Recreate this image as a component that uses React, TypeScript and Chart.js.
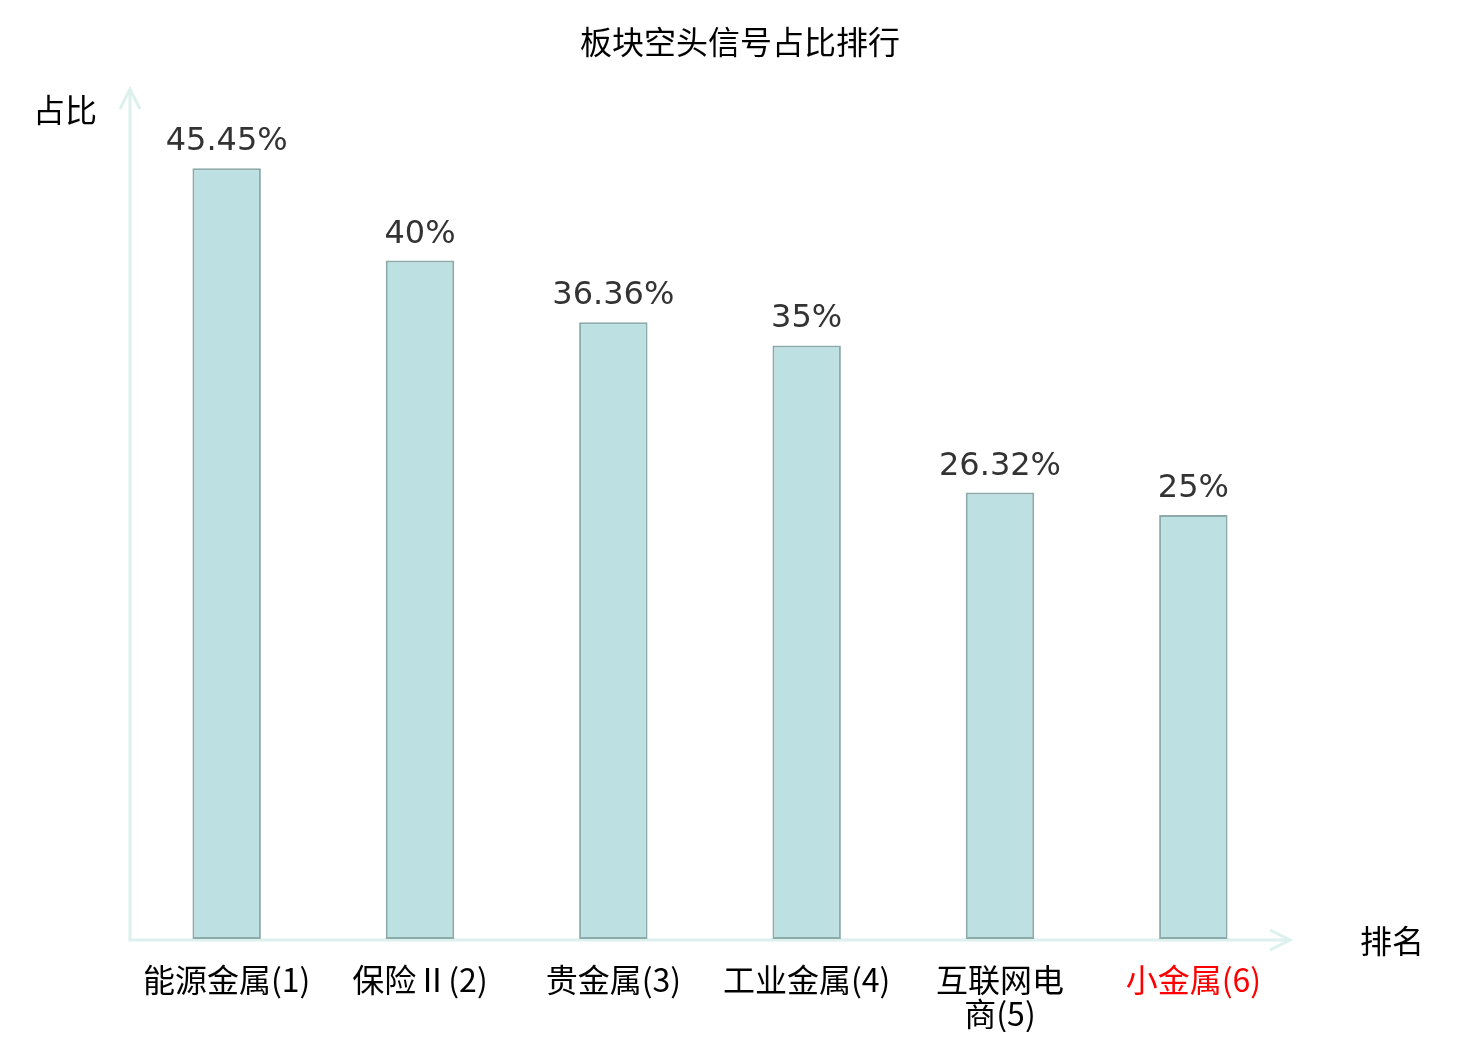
import React, { useEffect, useRef } from "react";
import { Chart, registerables } from "chart.js";

Chart.register(...registerables);

const TITLE = "板块空头信号占比排行";
const Y_NAME = "占比";
const X_NAME = "排名";
const categories: (string | string[])[] = [
  "能源金属(1)",
  "保险Ⅱ(2)",
  "贵金属(3)",
  "工业金属(4)",
  ["互联网电", "商(5)"],
  "小金属(6)",
];
const values = [45.45, 40, 36.36, 35, 26.32, 25];
const valueLabels = ["45.45%", "40%", "36.36%", "35%", "26.32%", "25%"];
const labelColors = ["#000000", "#000000", "#000000", "#000000", "#000000", "#ff0000"];

const CJK = '"Noto Sans CJK SC", sans-serif';
const LATIN = '"DejaVu Sans", "Noto Sans CJK SC", sans-serif';
const AXIS_COLOR = "#dcf1ee";

const decorPlugin = {
  id: "decor",
  beforeDatasetsDraw(chart: any) {
    const { ctx, chartArea } = chart;
    const { left, right, top, bottom } = chartArea;
    ctx.save();
    ctx.strokeStyle = AXIS_COLOR;
    ctx.lineWidth = 3;
    ctx.lineCap = "butt";
    // y axis
    ctx.beginPath();
    ctx.moveTo(left, bottom + 1.5);
    ctx.lineTo(left, top - 2);
    ctx.stroke();
    ctx.beginPath();
    ctx.moveTo(left - 10, top + 18);
    ctx.lineTo(left, top - 2);
    ctx.lineTo(left + 10, top + 18);
    ctx.stroke();
    // x axis
    ctx.beginPath();
    ctx.moveTo(left - 1.5, bottom + 1);
    ctx.lineTo(right, bottom + 1);
    ctx.stroke();
    ctx.beginPath();
    ctx.moveTo(right - 20, bottom - 9);
    ctx.lineTo(right, bottom + 1);
    ctx.lineTo(right - 20, bottom + 11);
    ctx.stroke();
    ctx.restore();
  },
  afterDatasetsDraw(chart: any) {
    const { ctx } = chart;
    ctx.save();
    // title
    ctx.fillStyle = "#000000";
    ctx.font = `32px ${CJK}`;
    ctx.textAlign = "center";
    ctx.textBaseline = "middle";
    ctx.fillText(TITLE, 740, 42);
    // axis names
    ctx.textAlign = "left";
    ctx.fillText(Y_NAME, 33, 110);
    ctx.fillText(X_NAME, 1360, 941);
    // value labels
    const meta = chart.getDatasetMeta(0);
    ctx.fillStyle = "#333333";
    ctx.font = `32px ${LATIN}`;
    ctx.textAlign = "center";
    ctx.textBaseline = "alphabetic";
    meta.data.forEach((bar: any, i: number) => {
      ctx.fillText(valueLabels[i], bar.x, bar.y - 18);
    });
    ctx.restore();
  },
};

export default function App() {
  const ref = useRef<HTMLCanvasElement | null>(null);
  useEffect(() => {
    document.body.style.margin = "0";
    const chart = new Chart(ref.current as HTMLCanvasElement, {
      type: "bar",
      data: {
        labels: categories,
        datasets: [
          {
            data: values,
            backgroundColor: "#bde0e3",
            borderColor: "#8caaaa",
            borderWidth: 2,
            borderSkipped: false,
            barPercentage: 0.354,
            categoryPercentage: 1,
          },
        ],
      },
      options: {
        animation: false,
        responsive: false,
        devicePixelRatio: 1,
        layout: { padding: { left: 130, right: 190, top: 91, bottom: 8 } },
        plugins: {
          legend: { display: false },
          title: { display: false },
          tooltip: { enabled: false },
        },
        scales: {
          x: {
            grid: { display: false, drawTicks: false },
            border: { display: false },
            afterFit: (scale: any) => {
              scale.height = 93;
            },
            ticks: {
              padding: 24,
              autoSkip: false,
              maxRotation: 0,
              minRotation: 0,
              font: { family: CJK, size: 32, lineHeight: 1.05 },
              color: (c: any) => labelColors[c.index] || "#000",
            },
          },
          y: {
            display: false,
            min: 0,
            max: 50,
          },
        },
      },
      plugins: [decorPlugin],
    });
    return () => chart.destroy();
  }, []);
  return (
    <div style={{ width: 1480, height: 1040, background: "#ffffff" }}>
      <canvas ref={ref} width={1480} height={1040} style={{ display: "block" }} />
    </div>
  );
}
